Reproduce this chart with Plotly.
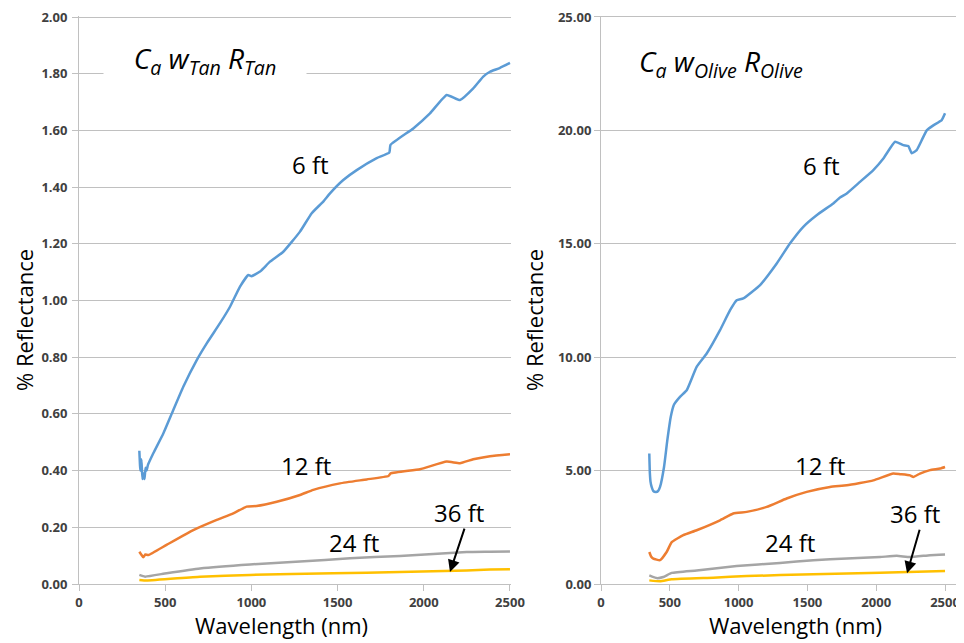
import plotly.graph_objects as go
from plotly.subplots import make_subplots

# ---------------- Data (Tan panel) ----------------
tan_6ft_wl = [350, 356, 362, 368, 374, 380, 386, 392, 400, 431, 489, 547, 605, 683, 741, 818, 876, 934,
              982, 1001, 1050, 1108, 1185, 1282, 1350, 1417, 1456, 1533, 1611, 1727, 1800, 1807, 1939,
              2036, 2133, 2210, 2287, 2345, 2384, 2440, 2500]
tan_6ft = [0.47, 0.40, 0.44, 0.37, 0.39, 0.37, 0.41, 0.40, 0.42, 0.461, 0.531, 0.614, 0.696, 0.790, 0.849,
           0.920, 0.978, 1.049, 1.090, 1.086, 1.102, 1.137, 1.172, 1.243, 1.308, 1.349, 1.378, 1.425, 1.460,
           1.502, 1.522, 1.549, 1.607, 1.660, 1.725, 1.707, 1.748, 1.790, 1.807, 1.820, 1.838]

tan_12ft_wl = [350, 360, 373, 385, 402, 508, 663, 799, 895, 972, 1030, 1147, 1282, 1359, 1514, 1669, 1795,
               1808, 1978, 2133, 2210, 2287, 2384, 2500]
tan_12ft = [0.114, 0.105, 0.094, 0.104, 0.102, 0.138, 0.190, 0.226, 0.249, 0.273, 0.275, 0.290, 0.314,
            0.332, 0.355, 0.369, 0.381, 0.390, 0.405, 0.432, 0.426, 0.440, 0.451, 0.458]

tan_24ft_wl = [350, 383, 508, 702, 992, 1282, 1572, 1862, 2055, 2249, 2384, 2500]
tan_24ft = [0.032, 0.026, 0.038, 0.055, 0.069, 0.079, 0.091, 0.099, 0.106, 0.113, 0.114, 0.115]

tan_36ft_wl = [350, 392, 702, 992, 1475, 1862, 2249, 2384, 2500]
tan_36ft = [0.014, 0.012, 0.026, 0.032, 0.038, 0.042, 0.048, 0.051, 0.052]

# ---------------- Data (Olive panel) ----------------
olive_6ft_wl = [351, 355, 360, 368, 380, 400, 415, 429, 458, 482, 507, 530, 574, 623, 695, 768, 865, 938,
                986, 1034, 1156, 1277, 1374, 1470, 1567, 1688, 1737, 1786, 1882, 1979, 2052, 2137, 2197,
                2233, 2258, 2294, 2331, 2367, 2415, 2476, 2500]
olive_6ft = [5.75, 4.9, 4.5, 4.28, 4.1, 4.06, 4.1, 4.28, 5.16, 6.34, 7.37, 7.9, 8.25, 8.54, 9.57, 10.16,
             11.19, 12.07, 12.51, 12.59, 13.18, 14.13, 15.02, 15.75, 16.26, 16.78, 17.04, 17.22, 17.73,
             18.25, 18.76, 19.50, 19.35, 19.31, 18.99, 19.13, 19.57, 20.0, 20.22, 20.45, 20.75]

olive_12ft_wl = [351, 365, 380, 429, 477, 514, 598, 695, 865, 961, 1059, 1204, 1349, 1495, 1664, 1786,
                 1979, 2124, 2173, 2246, 2270, 2318, 2391, 2464, 2500]
olive_12ft = [1.41, 1.2, 1.12, 1.05, 1.41, 1.85, 2.15, 2.37, 2.81, 3.11, 3.18, 3.40, 3.77, 4.06, 4.28,
              4.35, 4.57, 4.87, 4.84, 4.79, 4.72, 4.87, 5.02, 5.09, 5.16]

olive_24ft_wl = [351, 405, 453, 514, 695, 986, 1301, 1543, 1786, 2028, 2149, 2246, 2391, 2500]
olive_24ft = [0.38, 0.26, 0.31, 0.49, 0.60, 0.79, 0.93, 1.05, 1.12, 1.19, 1.24, 1.19, 1.27, 1.30]

olive_36ft_wl = [351, 429, 514, 816, 1059, 1543, 2028, 2500]
olive_36ft = [0.16, 0.12, 0.21, 0.28, 0.35, 0.43, 0.50, 0.57]

x_ticks = [0, 500, 1000, 1500, 2000, 2500]
tan_yticks = [0.0, 0.2, 0.4, 0.6, 0.8, 1.0, 1.2, 1.4, 1.6, 1.8, 2.0]
olive_yticks = [0, 5, 10, 15, 20, 25]

# ---------------- Styles ----------------
BLUE, ORANGE, GRAY, YELLOW = "#5B9BD5", "#ED7D31", "#A5A5A5", "#FFC000"
GRID = "#C0C0C0"
W, H = 964, 643
OFF = 8  # page body margin offset


def px(x):
    return (x - OFF) / W


def py(y):
    return 1 - (y - OFF) / H


fig = make_subplots(rows=1, cols=2)

series = [
    (1, tan_6ft_wl, tan_6ft, BLUE), (1, tan_12ft_wl, tan_12ft, ORANGE),
    (1, tan_24ft_wl, tan_24ft, GRAY), (1, tan_36ft_wl, tan_36ft, YELLOW),
    (2, olive_6ft_wl, olive_6ft, BLUE), (2, olive_12ft_wl, olive_12ft, ORANGE),
    (2, olive_24ft_wl, olive_24ft, GRAY), (2, olive_36ft_wl, olive_36ft, YELLOW),
]
for col, xs, ys, c in series:
    fig.add_trace(go.Scatter(x=xs, y=ys, mode="lines", line=dict(color=c, width=2.5, shape="spline",
                                                                  smoothing=0.4),
                             showlegend=False, hoverinfo="skip"), row=1, col=col)

tickfont = dict(family="Open Sans", size=13, color="#404040", weight="bold")
common_x = dict(tickvals=x_ticks, ticktext=[str(t) for t in x_ticks], showgrid=False, showline=True,
                linecolor=GRID, linewidth=1, ticks="outside", ticklen=6, tickcolor=GRID,
                tickfont=tickfont, zeroline=False, automargin=False)
common_y = dict(showgrid=True, gridcolor=GRID, gridwidth=1, showline=True, linecolor=GRID, linewidth=1,
                ticks="outside", ticklen=6, tickcolor=GRID, tickfont=tickfont, zeroline=False,
                automargin=False, ticklabeloverflow="allow")

fig.update_layout(
    width=W, height=H, margin=dict(l=0, r=0, t=0, b=0, autoexpand=False),
    plot_bgcolor="white", paper_bgcolor="white",
    xaxis=dict(domain=[px(79), px(511)], range=[0, 2506], **common_x),
    xaxis2=dict(domain=[px(601), 1.0], range=[0, 2696], **common_x),
    yaxis=dict(domain=[py(584), py(15.6)], range=[0, 2.005], tickvals=tan_yticks,
               ticktext=[f"{v:.2f}" for v in tan_yticks], ticklabelstandoff=2, **common_y),
    yaxis2=dict(domain=[py(584), py(15.6)], range=[0, 25.06], tickvals=olive_yticks,
                ticktext=[f"{v:.2f}" for v in olive_yticks], ticklabelstandoff=0, **common_y),
)

annotations = []
lab_font = dict(family="Open Sans", size=24, color="black")


def note(x, y, text, font, **kw):
    d = dict(x=px(x), y=py(y), xref="paper", yref="paper", xanchor="center", yanchor="middle",
             showarrow=False, text=text, font=font)
    d.update(kw)
    annotations.append(d)


# panel titles (left one has white box hiding gridline)
note(205, 60, "<i>C<sub>a</sub> w<sub>Tan</sub> R<sub>Tan</sub></i>",
     dict(family="Open Sans", size=28, color="black"), width=200, height=36, bgcolor="white")
note(721, 63, "<i>C<sub>a</sub> w<sub>Olive</sub> R<sub>Olive</sub></i>",
     dict(family="Open Sans", size=28, color="black"))
# curve labels
for (x, y, t) in [(310, 164, "6 ft"), (306, 465, "12 ft"), (354, 542, "24 ft"), (459, 512, "36 ft"),
                  (821, 166, "6 ft"), (820, 465, "12 ft"), (790, 542, "24 ft"), (915, 513, "36 ft")]:
    note(x, y, t, lab_font)
# arrows
annotations.append(dict(x=2152, y=0.042, xref="x", yref="y", ax=15, ay=-45, text="", showarrow=True,
                        arrowhead=2, arrowsize=1.2, arrowwidth=2, arrowcolor="black"))
annotations.append(dict(x=2224, y=0.47, xref="x2", yref="y2", ax=13, ay=-45, text="", showarrow=True,
                        arrowhead=2, arrowsize=1.2, arrowwidth=2, arrowcolor="black"))
# axis titles
ax_font = dict(family="Open Sans", size=22, color="black")
for x in (281, 795):
    note(x, 625, "Wavelength (nm)", ax_font)
for x in (24, 534):
    note(x, 320, "% Reflectance", ax_font, textangle=-90)
fig.update_layout(annotations=annotations)

fig.write_html("out.html")
